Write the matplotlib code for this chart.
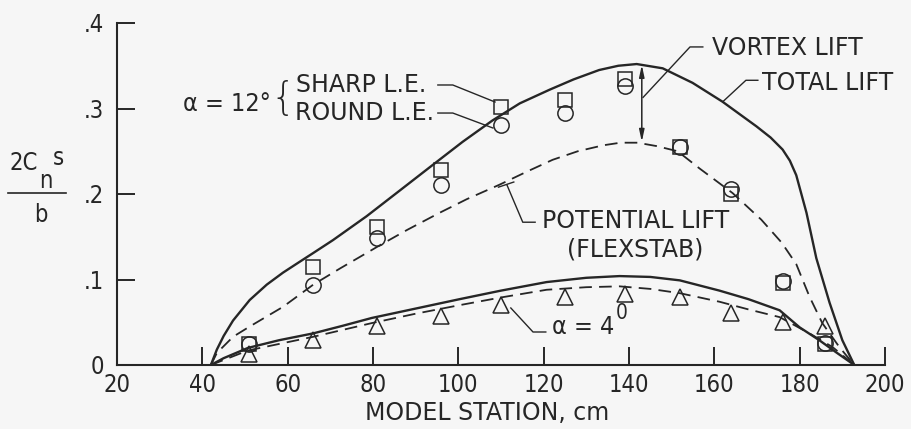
import matplotlib
matplotlib.use("Agg")
from matplotlib import pyplot as plt
from matplotlib.lines import Line2D

plt.rcParams['font.family'] = ['DejaVu Sans']

# measured points, alpha = 12 deg
stations = [51, 66, 81, 96, 110, 125, 139, 152, 164, 176, 186]
sharp_12 = [0.025, 0.115, 0.161, 0.228, 0.302, 0.310, 0.334, 0.255, 0.200, 0.096, 0.024]
round_12 = [0.024, 0.094, 0.148, 0.211, 0.281, 0.295, 0.326, 0.255, 0.206, 0.098, 0.026]
# measured points, alpha = 4 deg
tri_4 = [0.013, 0.029, 0.046, 0.057, 0.070, 0.079, 0.083, 0.079, 0.061, 0.050, 0.046]

# total lift curve, alpha = 12
total_x = [42, 43.4, 45, 47.2, 51.1, 55.1, 58.9, 62.9, 66, 70.6, 78.5, 86, 94, 101, 108,
           114.4, 121.4, 127, 133, 137.5, 141.8, 147.9, 154.9, 161.9, 169.9, 173.2, 176,
           177.7, 179.2, 181.6, 183.9, 187, 190, 192.8]
total_y = [0, 0.018, 0.034, 0.052, 0.076, 0.094, 0.108, 0.121, 0.131, 0.146, 0.174, 0.203,
           0.234, 0.261, 0.286, 0.306, 0.322, 0.334, 0.345, 0.350, 0.352, 0.347, 0.330,
           0.308, 0.279, 0.266, 0.252, 0.239, 0.222, 0.178, 0.125, 0.073, 0.029, 0]
# potential lift (FLEXSTAB), alpha = 12
pot_x = [42, 43.4, 47.2, 51.1, 58.9, 66, 72.3, 81.6, 88, 95.6, 102, 109.7, 116, 122.1, 128,
         134, 138, 142, 146.5, 151.4, 156.5, 164.3, 171, 175.8, 179.2, 182.3, 185.3, 189.3,
         192.8]
pot_y = [0, 0.014, 0.033, 0.045, 0.068, 0.094, 0.113, 0.140, 0.158, 0.178, 0.194, 0.211,
         0.226, 0.240, 0.250, 0.257, 0.260, 0.260, 0.256, 0.250, 0.230, 0.201, 0.170, 0.143,
         0.118, 0.080, 0.049, 0.021, 0]
# alpha = 4 curves
tot4_x = [42, 45, 50.7, 58, 66, 73, 79.7, 90, 100.3, 110, 120.7, 130, 137.8, 145, 151.9,
          161.2, 168, 175.3, 180, 184.6, 188.5, 192.8]
tot4_y = [0, 0.008, 0.020, 0.029, 0.037, 0.046, 0.055, 0.066, 0.077, 0.087, 0.097, 0.102,
          0.104, 0.103, 0.099, 0.087, 0.077, 0.064, 0.044, 0.029, 0.015, 0]
pot4_x = [42, 50.7, 66, 79.7, 90, 100.3, 110, 120.7, 130, 137.8, 145, 151.9, 161.2, 168,
          175.3, 182.3, 187.7, 192.8]
pot4_y = [0, 0.017, 0.033, 0.049, 0.060, 0.070, 0.079, 0.088, 0.091, 0.092, 0.089, 0.084,
          0.074, 0.065, 0.056, 0.037, 0.021, 0]

xticks = [20, 40, 60, 80, 100, 120, 140, 160, 180, 200]
yticks = [0, 0.1, 0.2, 0.3, 0.4]
ytick_labels = ['0', '.1', '.2', '.3', '.4']

ink = '#262626'
bg = '#f6f6f6'
W, H = 911, 429


def fxy(px, py):
    return px / W, 1 - py / H


fig = plt.figure(figsize=(9.11, 4.29), dpi=100, facecolor=bg)
ax = fig.add_axes([117 / W, 1 - 365 / H, (885 - 117) / W, (365 - 23) / H])
ax.set_facecolor(bg)

ax.plot(total_x, total_y, color=ink, lw=1.7)
ax.plot(pot_x, pot_y, color=ink, lw=1.3, dashes=(7, 4))
ax.plot(tot4_x, tot4_y, color=ink, lw=1.7)
ax.plot(pot4_x, pot4_y, color=ink, lw=1.3, dashes=(7, 4))

ax.plot(stations, sharp_12, ls='none', marker='s', ms=10.5, mfc='none', mec=ink, mew=1.1)
ax.plot(stations, round_12, ls='none', marker='o', ms=11, mfc='none', mec=ink, mew=1.1)
ax.plot(stations, tri_4, ls='none', marker='^', ms=11.5, mfc='none', mec=ink, mew=1.1)

ax.set_xlim(20, 200)
ax.set_ylim(0, 0.4)
for s in ['top', 'right']:
    ax.spines[s].set_visible(False)
for s in ['left', 'bottom']:
    ax.spines[s].set_linewidth(1.5)
    ax.spines[s].set_color(ink)
ax.set_xticks(xticks)
ax.set_yticks(yticks)
ax.set_yticklabels(ytick_labels)
ax.tick_params(direction='in', length=13, width=1.4, color=ink, labelsize=17,
               labelcolor=ink)
ax.tick_params(axis='x', pad=6)
ax.tick_params(axis='y', pad=9)
for lab in ax.get_xticklabels() + ax.get_yticklabels():
    lab.set_fontstretch('condensed')
ax.xaxis.get_major_ticks()[0].tick1line.set_visible(False)
ax.yaxis.get_major_ticks()[0].tick1line.set_visible(False)

tsize = 17

# labels for the 12 deg data
ax.text(45.8, 0.305, 'α = 12°', fontsize=18, color=ink, ha='center', va='center',
        fontstretch='condensed')
ax.text(58.8, 0.311, '{', fontsize=28, color=ink, ha='center', va='center',
        fontweight='light')
ax.text(61.9, 0.3275, 'SHARP L.E.', fontsize=tsize, color=ink, va='center')
ax.text(61.7, 0.295, 'ROUND L.E.', fontsize=tsize, color=ink, va='center')
ax.plot([95.2, 98.7, 108.6], [0.3275, 0.3275, 0.3076], color=ink, lw=1)
ax.plot([95.2, 98.7, 108.1], [0.2947, 0.2947, 0.2772], color=ink, lw=1)

# vortex lift
ax.annotate('', xy=(143, 0.351), xytext=(143, 0.261),
            arrowprops=dict(arrowstyle='<|-|>,head_length=0.7,head_width=0.15',
                            color=ink, lw=1.1, shrinkA=0, shrinkB=0))
ax.text(159.4, 0.371, 'VORTEX LIFT', fontsize=tsize, color=ink, va='center')
ax.plot([157.3, 154.3, 143.3], [0.372, 0.372, 0.313], color=ink, lw=1)

ax.text(171.2, 0.330, 'TOTAL LIFT', fontsize=tsize, color=ink, va='center')
ax.plot([170.2, 167.4, 162.0], [0.333, 0.333, 0.308], color=ink, lw=1)

ax.text(141.5, 0.152, 'POTENTIAL LIFT\n(FLEXSTAB)', fontsize=tsize, color=ink,
        ha='center', va='center', linespacing=1.25)
ax.plot([118.0, 115.1, 111.4], [0.167, 0.167, 0.2105], color=ink, lw=1)
ax.plot([109.4, 113.0], [0.208, 0.214], color=ink, lw=1)

# alpha = 4
ax.text(121.9, 0.0444, 'α = 4', fontsize=18, color=ink, va='center',
        fontstretch='condensed')
ax.text(138.4, 0.061, '0', fontsize=15, color=ink, ha='center', va='center',
        fontstretch='condensed')
ax.plot([120.5, 117.5, 112.3], [0.0386, 0.0386, 0.0667], color=ink, lw=1)

# axis titles
fig.text(*fxy(487, 413), 'MODEL STATION, cm', fontsize=tsize, color=ink,
         ha='center', va='center')
fig.text(*fxy(24, 163), '2C', fontsize=tsize, color=ink, ha='center', va='center',
         fontstretch='condensed')
fig.text(*fxy(46, 181), 'n', fontsize=tsize, color=ink, ha='center', va='center',
         fontstretch='condensed')
fig.text(*fxy(58, 158), 's', fontsize=tsize, color=ink, ha='center', va='center',
         fontstretch='condensed')
fig.add_artist(Line2D([8 / W, 66 / W], [1 - 193 / H, 1 - 193 / H], color=ink, lw=1.2))
fig.text(*fxy(41, 215), 'b', fontsize=tsize, color=ink, ha='center', va='center',
         fontstretch='condensed')

fig.savefig('out.png', dpi=100, facecolor=bg)
